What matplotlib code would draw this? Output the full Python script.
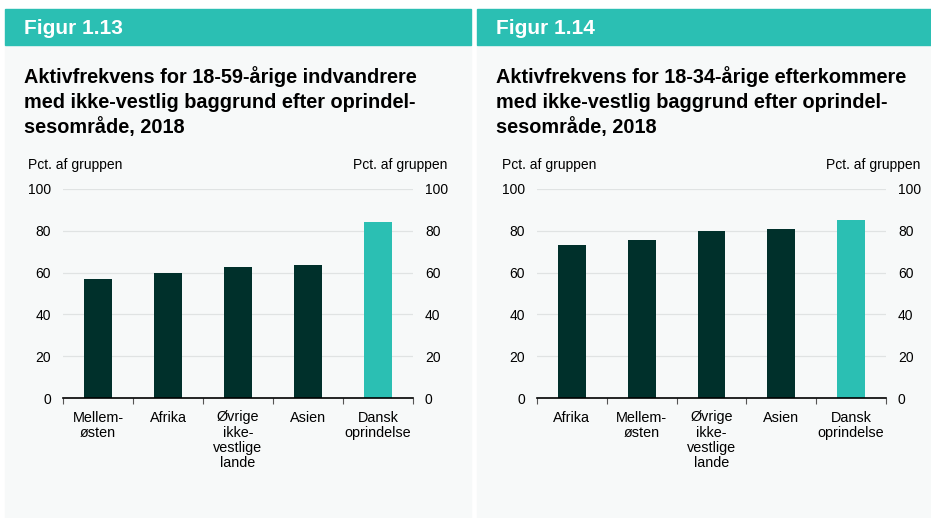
import matplotlib
matplotlib.use("Agg")
import matplotlib.pyplot as plt
from matplotlib.patches import Rectangle

plt.rcParams["font.family"] = ["Liberation Sans", "DejaVu Sans"]

# figure 1.13
cats_13 = ["Mellem-\nøsten", "Afrika", "Øvrige\nikke-\nvestlige\nlande", "Asien", "Dansk\noprindelse"]
vals_13 = [56.9, 59.8, 62.7, 63.6, 84.4]
title_13 = ["Aktivfrekvens for 18-59-årige indvandrere",
            "med ikke-vestlig baggrund efter oprindel-",
            "sesområde, 2018"]

# figure 1.14
cats_14 = ["Afrika", "Mellem-\nøsten", "Øvrige\nikke-\nvestlige\nlande", "Asien", "Dansk\noprindelse"]
vals_14 = [73.2, 75.6, 80.1, 80.9, 85.3]
title_14 = ["Aktivfrekvens for 18-34-årige efterkommere",
            "med ikke-vestlig baggrund efter oprindel-",
            "sesområde, 2018"]

yticks = [0, 20, 40, 60, 80, 100]

DARK = "#00302b"
TEAL = "#2bbfb3"
BG = "#f7f9f9"
W, H = 931, 518

fig = plt.figure(figsize=(W / 100, H / 100), dpi=100)
fig.patch.set_facecolor("white")


def px(x0, y0, x1, y1):
    # pixel box (top-left origin) -> figure fraction rect
    return [x0 / W, 1 - y1 / H, (x1 - x0) / W, (y1 - y0) / H]


def panel(x0, x1, label, title, cats, vals, ax_x0, ax_x1):
    fig.patches.append(Rectangle((x0 / W, 0), (x1 - x0) / W, 1 - 45 / H,
                                 transform=fig.transFigure, color=BG, zorder=-10))
    fig.patches.append(Rectangle((x0 / W, 1 - 45 / H), (x1 - x0) / W, 36 / H,
                                 transform=fig.transFigure, color=TEAL, zorder=-10))
    fig.text((x0 + 19) / W, 1 - 34.5 / H, label, color="white", fontsize=15,
             fontweight="bold", va="baseline", ha="left")
    for i, line in enumerate(title):
        fig.text((x0 + 19) / W, 1 - (83 + 25 * i) / H, line, fontsize=14.3,
                 fontweight="bold", va="baseline", ha="left")

    ax = fig.add_axes(px(ax_x0, 189, ax_x1, 398))
    ax.set_facecolor(BG)
    n = len(vals)
    colors = [DARK] * (n - 1) + [TEAL]
    ax.bar(range(n), vals, width=0.4, color=colors, zorder=3)
    ax.set_xlim(-0.5, n - 0.5)
    ax.set_ylim(0, 100)
    ax.set_yticks(yticks)
    ax.grid(axis="y", color="#e0e3e3", lw=0.9, zorder=0)
    for s in ["top", "left", "right"]:
        ax.spines[s].set_visible(False)
    ax.spines["bottom"].set_color("black")
    ax.spines["bottom"].set_linewidth(1.2)
    ax.spines["bottom"].set_zorder(4)
    ax.set_xticks([i - 0.5 for i in range(n + 1)])
    ax.set_xticklabels([])
    ax.set_xticks(range(n), minor=True)
    ax.set_xticklabels(cats, minor=True, fontsize=10.4, linespacing=1.1, va="top")
    ax.tick_params(axis="x", which="major", length=4, color="#555555", width=0.8)
    ax.tick_params(axis="x", which="minor", length=0, pad=9)
    ax.tick_params(axis="y", length=0, labelsize=10, pad=8.6,
                   labelleft=True, labelright=True)
    ax.text(-0.099, 1.096, "Pct. af gruppen", transform=ax.transAxes, fontsize=10,
            ha="left", va="baseline")
    ax.text(1.099, 1.096, "Pct. af gruppen", transform=ax.transAxes, fontsize=10,
            ha="right", va="baseline")
    return ax


panel(5, 471, "Figur 1.13", title_13, cats_13, vals_13, 63, 413)
panel(477, 931, "Figur 1.14", title_14, cats_14, vals_14, 537, 886)

fig.savefig("out.png", dpi=100, facecolor=fig.get_facecolor())
